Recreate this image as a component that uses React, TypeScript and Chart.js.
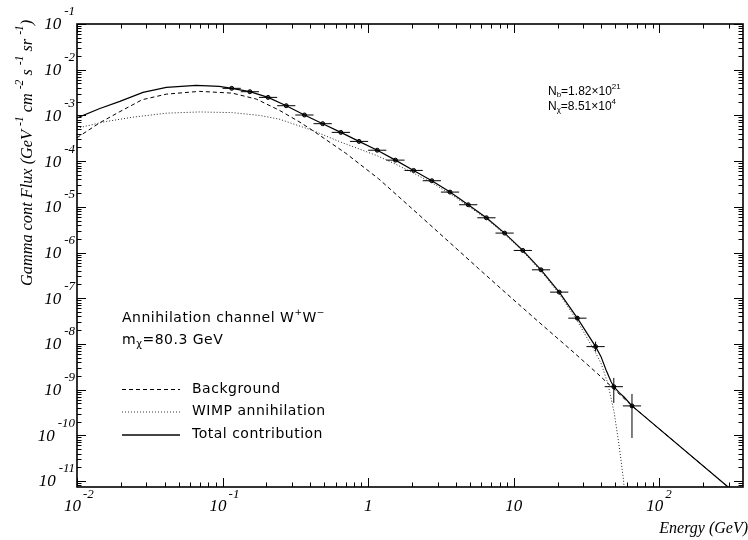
import React, { useEffect, useRef } from "react";
import { Chart, registerables } from "chart.js";

Chart.register(...registerables);

// ---------- data (GeV, flux) ----------
const totalE = [0.0100, 0.01436, 0.0197, 0.0284, 0.0411, 0.0659, 0.0951, 0.1155, 0.1540, 0.2054, 0.2738, 0.3652, 0.4870, 0.6494, 0.8660, 1.155, 1.540, 2.054, 2.738, 3.652, 4.870, 6.494, 8.660, 11.55, 15.40, 20.54, 27.38, 36.52, 39.8, 43.1, 46.6, 48.70, 53.1, 57.5, 64.94, 297, 380];
const totalF = [8.77e-4, 1.42e-3, 2.03e-3, 3.19e-3, 4.11e-3, 4.54e-3, 4.33e-3, 3.91e-3, 3.30e-3, 2.48e-3, 1.63e-3, 1.02e-3, 6.59e-4, 4.25e-4, 2.70e-4, 1.73e-4, 1.05e-4, 6.25e-5, 3.72e-5, 2.10e-5, 1.11e-5, 5.75e-6, 2.66e-6, 1.11e-6, 4.18e-7, 1.36e-7, 3.66e-8, 8.73e-9, 5.27e-9, 2.70e-9, 1.50e-9, 1.16e-9, 8.59e-10, 6.81e-10, 4.40e-10, 7.4e-12, 3.8e-12];

const bgE = [0.0100, 0.01436, 0.0197, 0.0281, 0.0412, 0.0693, 0.1167, 0.1702, 0.245, 0.335, 0.411, 0.703, 1.18, 1.99, 3.40, 5.71, 8.74, 14.7, 24.7, 37.8, 64.94, 297, 380];
const bgF = [3.25e-4, 6.93e-4, 1.21e-3, 2.21e-3, 2.92e-3, 3.36e-3, 3.07e-3, 2.28e-3, 1.30e-3, 7.30e-4, 4.80e-4, 1.48e-4, 4.11e-5, 9.29e-6, 2.00e-6, 4.51e-7, 1.34e-7, 3.11e-8, 7.40e-9, 2.21e-9, 4.40e-10, 7.4e-12, 3.8e-12];

const wimpE = [0.0100, 0.01556, 0.0242, 0.0413, 0.0693, 0.1167, 0.1786, 0.245, 0.411, 0.6494, 0.8660, 1.155, 1.540, 2.054, 2.738, 3.652, 4.870, 6.494, 8.660, 11.55, 15.40, 20.54, 27.38, 36.52, 39.8, 44.3, 49.1, 53.1, 56.8, 57.8];
const wimpF = [5.25e-4, 7.28e-4, 9.14e-4, 1.12e-3, 1.19e-3, 1.15e-3, 1.00e-3, 8.30e-4, 4.75e-4, 2.60e-4, 1.85e-4, 1.31e-4, 8.61e-5, 5.44e-5, 3.36e-5, 1.94e-5, 1.04e-5, 5.45e-6, 2.52e-6, 1.05e-6, 3.92e-7, 1.25e-7, 3.16e-8, 6.42e-9, 3.78e-9, 1.38e-9, 3.04e-10, 5.64e-11, 1.05e-11, 5.0e-12];

// binned "data" points with error bars
const binE = [0.1155, 0.1540, 0.2054, 0.2738, 0.3652, 0.4870, 0.6494, 0.8660, 1.155, 1.540, 2.054, 2.738, 3.652, 4.870, 6.494, 8.660, 11.55, 15.40, 20.54, 27.38, 36.52, 48.70, 64.94];
const binF = [3.91e-3, 3.30e-3, 2.48e-3, 1.63e-3, 1.02e-3, 6.59e-4, 4.25e-4, 2.70e-4, 1.73e-4, 1.05e-4, 6.25e-5, 3.72e-5, 2.10e-5, 1.11e-5, 5.75e-6, 2.66e-6, 1.11e-6, 4.18e-7, 1.36e-7, 3.66e-8, 8.73e-9, 1.16e-9, 4.40e-10];
const binFLow = [3.91e-3, 3.30e-3, 2.48e-3, 1.63e-3, 1.02e-3, 6.59e-4, 4.25e-4, 2.70e-4, 1.73e-4, 1.05e-4, 6.25e-5, 3.72e-5, 2.10e-5, 1.11e-5, 5.75e-6, 2.66e-6, 1.11e-6, 4.18e-7, 1.36e-7, 3.31e-8, 6.79e-9, 5.11e-10, 8.75e-11];
const binFHigh = [3.91e-3, 3.30e-3, 2.48e-3, 1.63e-3, 1.02e-3, 6.59e-4, 4.25e-4, 2.70e-4, 1.73e-4, 1.05e-4, 6.25e-5, 3.72e-5, 2.10e-5, 1.11e-5, 5.75e-6, 2.66e-6, 1.11e-6, 4.18e-7, 1.36e-7, 4.05e-8, 1.12e-8, 1.80e-9, 8.04e-10];
const binHalfWidthFactor = 1.155; // bins of 1/8 decade

// axes
const xMin = 0.01;
const xMax = 376;
const yMin = 7.4e-12;
const yMax = 0.1;
const xTickValues = [0.01, 0.1, 1, 10, 100];
const xTickBase = ["10", "10", "1", "10", "10"];
const xTickExp = ["-2", "-1", "", "", "2"];
const yTickValues = [1e-1, 1e-2, 1e-3, 1e-4, 1e-5, 1e-6, 1e-7, 1e-8, 1e-9, 1e-10, 1e-11];
const yTickExp = ["-1", "-2", "-3", "-4", "-5", "-6", "-7", "-8", "-9", "-10", "-11"];

const legendLabels = ["Background", "WIMP annihilation", "Total contribution"];

// ---------- drawing helpers ----------
type Part = { t: string; f: string; dy: number };
const serifIt = (px: number) => `italic ${px}px "Liberation Serif"`;
const sans = (px: number) => `${px}px "DejaVu Sans"`;

function drawParts(ctx: CanvasRenderingContext2D, parts: Part[], x: number, y: number) {
  let cx = x;
  for (const p of parts) {
    ctx.font = p.f;
    ctx.fillText(p.t, cx, y + p.dy);
    cx += ctx.measureText(p.t).width;
  }
  return cx;
}

const overlay = {
  id: "overlay",
  afterDatasetsDraw(chart: any) {
    const ctx: CanvasRenderingContext2D = chart.ctx;
    const xs = chart.scales.x;
    const ys = chart.scales.y;
    ctx.save();
    ctx.strokeStyle = "#000";
    ctx.lineWidth = 1;
    for (let i = 0; i < binE.length; i++) {
      const px = xs.getPixelForValue(binE[i]);
      const py = ys.getPixelForValue(binF[i]);
      const x1 = xs.getPixelForValue(binE[i] / binHalfWidthFactor);
      const x2 = xs.getPixelForValue(binE[i] * binHalfWidthFactor);
      ctx.beginPath();
      ctx.moveTo(x1, py);
      ctx.lineTo(x2, py);
      const yl = ys.getPixelForValue(binFLow[i]);
      const yh = ys.getPixelForValue(binFHigh[i]);
      if (Math.abs(yl - yh) > 1) {
        ctx.moveTo(px, yh);
        ctx.lineTo(px, yl);
      }
      ctx.stroke();
    }
    ctx.restore();
  },
  afterDraw(chart: any) {
    const ctx: CanvasRenderingContext2D = chart.ctx;
    const xs = chart.scales.x;
    const ys = chart.scales.y;
    const { left, right, top, bottom } = chart.chartArea;
    ctx.save();
    ctx.fillStyle = "#000";
    ctx.strokeStyle = "#000";

    // ticks
    ctx.lineWidth = 1;
    ctx.beginPath();
    for (let d = -2; d <= 2; d++) {
      for (let m = 1; m <= 9; m++) {
        const v = m * Math.pow(10, d);
        if (v < xMin * 0.999 || v > xMax) continue;
        const px = Math.round(xs.getPixelForValue(v)) + 0.5;
        const len = m === 1 ? 9 : 4.5;
        ctx.moveTo(px, bottom);
        ctx.lineTo(px, bottom - len);
        ctx.moveTo(px, top);
        ctx.lineTo(px, top + len);
      }
    }
    for (let d = -12; d <= -1; d++) {
      for (let m = 1; m <= 9; m++) {
        const v = m * Math.pow(10, d);
        if (v < yMin || v > yMax * 1.001) continue;
        const py = Math.round(ys.getPixelForValue(v)) + 0.5;
        const len = m === 1 ? 9 : 4.5;
        ctx.moveTo(left, py);
        ctx.lineTo(left + len, py);
        ctx.moveTo(right, py);
        ctx.lineTo(right - len, py);
      }
    }
    ctx.stroke();

    // frame
    ctx.lineWidth = 1.6;
    ctx.strokeRect(left, top, right - left, bottom - top);

    // y tick labels
    ctx.textBaseline = "middle";
    ctx.textAlign = "left";
    for (let i = 0; i < yTickValues.length; i++) {
      const py = ys.getPixelForValue(yTickValues[i]);
      ctx.font = serifIt(13);
      const we = ctx.measureText(yTickExp[i]).width;
      ctx.font = serifIt(17);
      const wb = ctx.measureText("10").width;
      const xe = left - 2 - we;
      const xb = xe - 3 - wb;
      ctx.fillText("10", xb, py + 1);
      ctx.font = serifIt(13);
      ctx.fillText(yTickExp[i], xe, py - 12);
    }

    // x tick labels
    for (let i = 0; i < xTickValues.length; i++) {
      const px = xs.getPixelForValue(xTickValues[i]);
      ctx.font = serifIt(17);
      const wb = ctx.measureText(xTickBase[i]).width;
      if (xTickExp[i]) {
        const xb = px - 4.5 - wb / 2;
        ctx.fillText(xTickBase[i], xb, 507);
        ctx.font = serifIt(13);
        ctx.fillText(xTickExp[i], xb + wb + 2, 495);
      } else {
        ctx.fillText(xTickBase[i], px - wb / 2, 507);
      }
    }

    // x title
    ctx.font = serifIt(16);
    ctx.textAlign = "right";
    ctx.fillText("Energy (GeV)", 748, 529);
    ctx.textAlign = "left";

    // y title (rotated)
    ctx.save();
    ctx.translate(28, 286);
    ctx.rotate(-Math.PI / 2);
    const big = serifIt(16.3);
    const small = serifIt(11.5);
    drawParts(
      ctx,
      [
        { t: "Gamma cont Flux (GeV ", f: big, dy: 0 },
        { t: "-1", f: small, dy: -8 },
        { t: " cm ", f: big, dy: 0 },
        { t: "-2", f: small, dy: -8 },
        { t: " s ", f: big, dy: 0 },
        { t: "-1", f: small, dy: -8 },
        { t: " sr ", f: big, dy: 0 },
        { t: "-1", f: small, dy: -8 },
        { t: ")", f: big, dy: 0 },
      ],
      0,
      0
    );
    ctx.restore();

    // annotations
    (ctx as any).letterSpacing = "0.5px";
    const s14 = sans(14);
    const s9 = sans(9);
    drawParts(
      ctx,
      [
        { t: "Annihilation channel W", f: s14, dy: 0 },
        { t: "+", f: s9, dy: -5 },
        { t: "W", f: s14, dy: 0 },
        { t: "−", f: s9, dy: -5 },
      ],
      122,
      318
    );
    drawParts(
      ctx,
      [
        { t: "m", f: s14, dy: 0 },
        { t: "χ", f: sans(10), dy: 4 },
        { t: "=80.3 GeV", f: s14, dy: 0 },
      ],
      122,
      340
    );

    // legend
    const rows = [389, 411.5, 434.5];
    const dashes = [[4, 3], [1, 2], []];
    const widths = [1, 1, 2];
    const colors = ["#000", "#333", "#444"];
    for (let i = 0; i < 3; i++) {
      ctx.save();
      (ctx as any).letterSpacing = "0px";
      ctx.setLineDash(dashes[i]);
      ctx.lineWidth = widths[i];
      ctx.strokeStyle = colors[i];
      ctx.beginPath();
      ctx.moveTo(122, rows[i] + 0.5);
      ctx.lineTo(180, rows[i] + 0.5);
      ctx.stroke();
      ctx.restore();
      ctx.font = s14;
      ctx.fillText(legendLabels[i], 192, rows[i]);
    }

    // N values
    (ctx as any).letterSpacing = "0px";
    const n12 = '12px "Liberation Sans"';
    const n8 = '8px "Liberation Sans"';
    drawParts(
      ctx,
      [
        { t: "N", f: n12, dy: 0 },
        { t: "b", f: n8, dy: 3 },
        { t: "=1.82×10", f: n12, dy: 0 },
        { t: "21", f: n8, dy: -5 },
      ],
      548,
      92
    );
    drawParts(
      ctx,
      [
        { t: "N", f: n12, dy: 0 },
        { t: "χ", f: n8, dy: 3 },
        { t: "=8.51×10", f: n12, dy: 0 },
        { t: "4", f: n8, dy: -5 },
      ],
      548,
      107
    );
    ctx.restore();
  },
};

export default function App() {
  const ref = useRef<HTMLCanvasElement | null>(null);
  useEffect(() => {
    if (!ref.current) return;
    const toXY = (xs: number[], ys: number[]) => xs.map((x, i) => ({ x, y: ys[i] }));
    const chart = new Chart(ref.current, {
      type: "line",
      data: {
        datasets: [
          {
            label: "Background",
            data: toXY(bgE, bgF),
            borderColor: "#000",
            borderWidth: 1,
            borderDash: [4, 3],
            pointRadius: 0,
            tension: 0,
          },
          {
            label: "WIMP annihilation",
            data: toXY(wimpE, wimpF),
            borderColor: "#222",
            borderWidth: 1,
            borderDash: [1, 2],
            pointRadius: 0,
            tension: 0,
          },
          {
            label: "Total contribution",
            data: toXY(totalE, totalF),
            borderColor: "#000",
            borderWidth: 1.2,
            pointRadius: 0,
            tension: 0,
          },
          {
            label: "data",
            data: toXY(binE, binF),
            showLine: false,
            pointRadius: 2,
            pointBorderWidth: 1,
            pointBorderColor: "#000",
            pointBackgroundColor: "#555",
          },
        ],
      } as any,
      options: {
        responsive: false,
        devicePixelRatio: 1,
        animation: false,
        layout: { padding: { left: 77, right: 2, top: 24, bottom: 53 } },
        plugins: { legend: { display: false }, tooltip: { enabled: false } },
        scales: {
          x: { type: "logarithmic", min: xMin, max: xMax, display: false },
          y: { type: "logarithmic", min: yMin, max: yMax, display: false },
        },
      } as any,
      plugins: [overlay],
    });
    return () => chart.destroy();
  }, []);
  return (
    <div style={{ position: "absolute", left: 0, top: 0, width: 748, height: 540, background: "#fff" }}>
      <canvas ref={ref} width={748} height={540} style={{ display: "block" }} />
    </div>
  );
}
